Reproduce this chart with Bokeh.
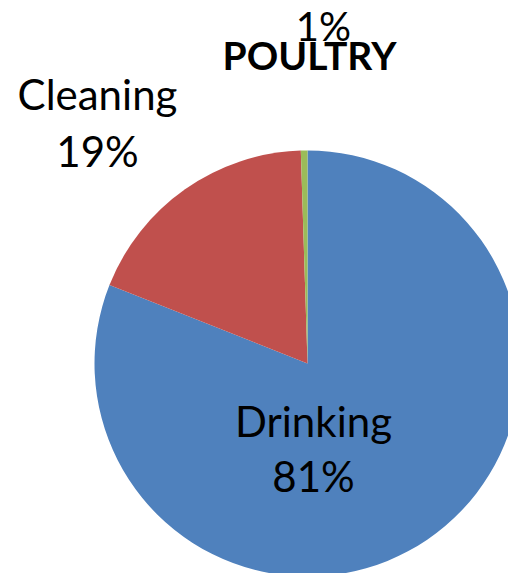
import math
from bokeh.plotting import figure
from bokeh.models import Range1d, ColumnDataSource
from bokeh.core.properties import value
from bokeh.embed import file_html
from bokeh.resources import INLINE

# Water use share in poultry farming (percent)
categories = ["Drinking", "Cleaning", ""]
shares = [81.0, 18.5, 0.5]
colors = ["#4F81BD", "#C0504D", "#9BBB59"]
title_text = "POULTRY"

W, H = 508, 573
FONT = "Lato"
LABEL_PX = 42
TITLE_PX = 39

p = figure(width=W, height=H, output_backend="svg", toolbar_location=None,
           x_range=Range1d(0, W), y_range=Range1d(0, H), min_border=0,
           background_fill_color="white", border_fill_color="white")
p.axis.visible = False
p.grid.visible = False
p.outline_line_color = None

# Pie laid out clockwise from 12 o'clock
cx, cy, r = 307, H - 363, 213
total = sum(shares)
starts, ends = [], []
acc = 0.0
for s in shares:
    a0 = math.radians(90 - (acc + s) / total * 360)
    a1 = math.radians(90 - acc / total * 360)
    starts.append(a0)
    ends.append(a1)
    acc += s

src = ColumnDataSource(dict(start=starts, end=ends, color=colors,
                            x=[cx] * len(shares), y=[cy] * len(shares)))
p.wedge(x="x", y="y", radius=r, start_angle="start", end_angle="end",
        fill_color="color", line_color=None, source=src)

def pct(v):
    return f"{int(v / total * 100 + 0.5)}%"

def put(x, baseline_px, txt, size, bold=False):
    # baseline given in screen pixels from the top
    p.text(x=[x], y=[H - baseline_px + 0.4 * size], text=[txt],
           text_font=value(FONT), text_font_size=f"{size}px",
           text_font_style="bold" if bold else "normal",
           text_align="center", text_baseline="alphabetic",
           text_color="black")

# Data labels: (x, name baseline, percent baseline, size) in screen pixels
label_pos = [(313, 437, 492, LABEL_PX), (97, 110, 167, LABEL_PX),
             (323, None, 41, 40)]
for name, v, (lx, ny, py, sz) in zip(categories, shares, label_pos):
    if name and ny is not None:
        put(lx, ny, name, sz)
    put(lx, py, pct(v), sz)

put(309, 70, title_text, TITLE_PX, bold=True)

open("out.html", "w").write(file_html(p, INLINE))
